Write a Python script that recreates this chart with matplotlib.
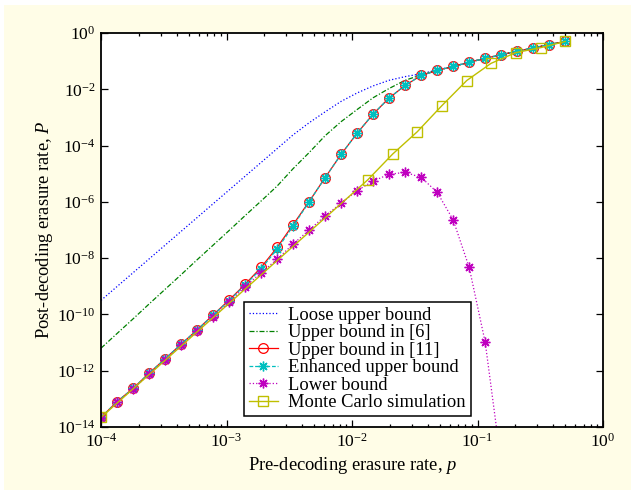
import matplotlib
matplotlib.use("Agg")
import matplotlib.pyplot as plt
from matplotlib.patches import Rectangle
from matplotlib.ticker import LogLocator, NullLocator, FixedLocator

plt.rcParams['font.family'] = ['Liberation Serif', 'DejaVu Serif']
plt.rcParams['mathtext.fontset'] = 'custom'
plt.rcParams['mathtext.rm'] = 'Liberation Serif'
plt.rcParams['mathtext.it'] = 'Liberation Serif:italic'
plt.rcParams['axes.unicode_minus'] = False

# ---------------- data ----------------
p_grid = [1.000e-4, 1.341e-4, 1.799e-4, 2.414e-4, 3.237e-4, 4.343e-4, 5.825e-4,
          7.814e-4, 1.048e-3, 1.406e-3, 1.886e-3, 2.530e-3, 3.393e-3, 4.552e-3,
          6.106e-3, 8.190e-3, 1.099e-2, 1.474e-2, 1.977e-2, 2.652e-2, 3.557e-2,
          4.771e-2, 6.400e-2, 8.585e-2, 0.1152, 0.1545, 0.2072, 0.2780, 0.3728, 0.5]

loose_upper = [3.16e-10, 9.77e-10, 3.02e-9, 9.33e-9, 2.88e-8, 8.91e-8, 2.75e-7,
               8.51e-7, 2.63e-6, 8.13e-6, 2.51e-5, 7.76e-5, 2.40e-4, 6.46e-4,
               1.58e-3, 3.72e-3, 7.41e-3, 1.32e-2, 2.09e-2, 2.82e-2, 3.55e-2,
               4.90e-2, 6.46e-2, 9.12e-2, 0.126, 0.170, 0.224, 0.295, 0.389, 0.5]

upper_ref6 = [6.31e-12, 2.09e-11, 6.92e-11, 2.34e-10, 7.76e-10, 2.57e-9, 8.71e-9,
              2.88e-8, 9.55e-8, 3.24e-7, 1.07e-6, 3.63e-6, 1.51e-5, 5.62e-5,
              2.24e-4, 7.08e-4, 1.91e-3, 5.01e-3, 1.07e-2, 2.09e-2, 3.24e-2,
              4.68e-2, 6.46e-2, 9.12e-2, 0.126, 0.170, 0.224, 0.295, 0.389, 0.5]

upper_ref11 = [2.19e-14, 7.94e-14, 2.34e-13, 8.13e-13, 2.63e-12, 8.71e-12, 2.82e-11,
               9.55e-11, 3.24e-10, 1.17e-9, 4.68e-9, 2.40e-8, 1.55e-7, 1.02e-6,
               7.24e-6, 4.90e-5, 2.75e-4, 1.32e-3, 4.90e-3, 1.38e-2, 3.09e-2,
               4.68e-2, 6.46e-2, 9.12e-2, 0.126, 0.170, 0.224, 0.295, 0.389, 0.5]

enhanced_upper = [2.19e-14, 7.94e-14, 2.34e-13, 8.13e-13, 2.63e-12, 8.71e-12, 2.82e-11,
                  9.33e-11, 3.09e-10, 1.10e-9, 4.17e-9, 2.09e-8, 1.38e-7, 1.00e-6,
                  7.24e-6, 4.90e-5, 2.75e-4, 1.32e-3, 4.90e-3, 1.38e-2, 3.09e-2,
                  4.68e-2, 6.46e-2, 9.12e-2, 0.126, 0.170, 0.224, 0.295, 0.389, 0.5]

lower_bound = [2.09e-14, 7.59e-14, 2.24e-13, 7.59e-13, 2.40e-12, 7.94e-12, 2.51e-11,
               7.94e-11, 2.69e-10, 9.77e-10, 3.02e-9, 9.12e-9, 3.16e-8, 1.00e-7,
               3.16e-7, 8.91e-7, 2.51e-6, 5.50e-6, 9.55e-6, 1.12e-5, 7.41e-6,
               2.19e-6, 2.29e-7, 4.68e-9, 1.02e-11, 5.0e-16]

mc_p = [1.0e-4, 1.334e-2, 2.11e-2, 3.31e-2, 5.18e-2, 8.2e-2, 0.128, 0.2015, 0.319, 0.5]
mc_P = [2.19e-14, 6.03e-6, 5.01e-5, 3.09e-4, 2.57e-3, 2.04e-2, 8.32e-2, 0.20, 0.302, 0.5]

labels = ["Loose upper bound", "Upper bound in [6]", "Upper bound in [11]",
          "Enhanced upper bound", "Lower bound", "Monte Carlo simulation"]

x_ticks = [1e-4, 1e-3, 1e-2, 1e-1, 1e0]
y_ticks = [1e-14, 1e-12, 1e-10, 1e-8, 1e-6, 1e-4, 1e-2, 1e0]
x_ticklabels = [r"10$^{-4}$", r"10$^{-3}$", r"10$^{-2}$", r"10$^{-1}$", r"10$^{0}$"]
y_ticklabels = [r"10$^{-14}$", r"10$^{-12}$", r"10$^{-10}$", r"10$^{-8}$",
                r"10$^{-6}$", r"10$^{-4}$", r"10$^{-2}$", r"10$^{0}$"]

# ---------------- figure ----------------
BG = '#FFFDE7'
fig = plt.figure(figsize=(6.31, 4.90), dpi=100, facecolor='white')
fig.patches.append(Rectangle((4 / 631, 0), 1, (490 - 5) / 490, transform=fig.transFigure,
                             facecolor=BG, edgecolor='none', zorder=-10))

ax = fig.add_axes([101 / 631, 1 - 427 / 490, 502 / 631, 394 / 490])
ax.set_facecolor('white')

blue = (0, 0, 1)
green = (0, 0.5, 0)
red = (1, 0, 0)
cyan = (0, 0.75, 0.75)
magenta = (0.75, 0, 0.75)
yellow = (0.75, 0.75, 0)
asterisk = (8, 2, 0)

ax.plot(p_grid, loose_upper, linestyle=':', color=blue, lw=0.9, label=labels[0])
ax.plot(p_grid, upper_ref6, linestyle='-.', color=green, lw=0.9, label=labels[1],
        dashes=(4, 1.5, 1, 1.5))
ax.plot(p_grid, upper_ref11, linestyle='-', color=red, lw=0.9, marker='o', ms=7,
        mfc='none', mec=red, mew=0.9, label=labels[2])
ax.plot(p_grid, enhanced_upper, linestyle='--', color=cyan, lw=0.9, marker=asterisk, ms=7,
        mfc=cyan, mec=cyan, mew=1.0, label=labels[3], dashes=(3, 1.5))
ax.plot(p_grid[:len(lower_bound)], lower_bound, linestyle=':', color=magenta, lw=0.9,
        marker=asterisk, ms=7, mfc=magenta, mec=magenta, mew=1.0, label=labels[4])
ax.plot(mc_p, mc_P, linestyle='-', color=yellow, lw=1.0, marker='s', ms=7.5,
        mfc='none', mec=yellow, mew=1.0, label=labels[5])

ax.set_xscale('log')
ax.set_yscale('log')
ax.set_xlim(1e-4, 1)
ax.set_ylim(1e-14, 1)

ax.xaxis.set_major_locator(FixedLocator(x_ticks))
ax.xaxis.set_minor_locator(LogLocator(base=10, subs=range(2, 10), numticks=20))
ax.set_xticklabels(x_ticklabels)
ax.yaxis.set_major_locator(FixedLocator(y_ticks))
ax.yaxis.set_minor_locator(NullLocator())
ax.set_yticklabels(y_ticklabels)

ax.tick_params(which='both', direction='in', top=True, right=True, labelsize=12.6,
               width=0.9, pad=4)
ax.tick_params(which='major', length=5)
ax.tick_params(which='minor', length=2.5)
for s in ax.spines.values():
    s.set_linewidth(1.3)

ax.set_xlabel(r"Pre-decoding erasure rate, $\it{p}$", fontsize=13.3, labelpad=3.5)
ax.set_ylabel(r"Post-decoding erasure rate, $\it{P}$", fontsize=13.3, labelpad=1.5)

leg = ax.legend(loc='lower left', bbox_to_anchor=(0.285, 0.028), borderaxespad=0,
                fontsize=13.3, labelspacing=0.03, handlelength=1.6, handletextpad=0.55,
                borderpad=0.25, fancybox=False, frameon=True, framealpha=1,
                edgecolor='black')
leg.get_frame().set_linewidth(1.1)

fig.savefig('out.png', dpi=100, facecolor=fig.get_facecolor())
